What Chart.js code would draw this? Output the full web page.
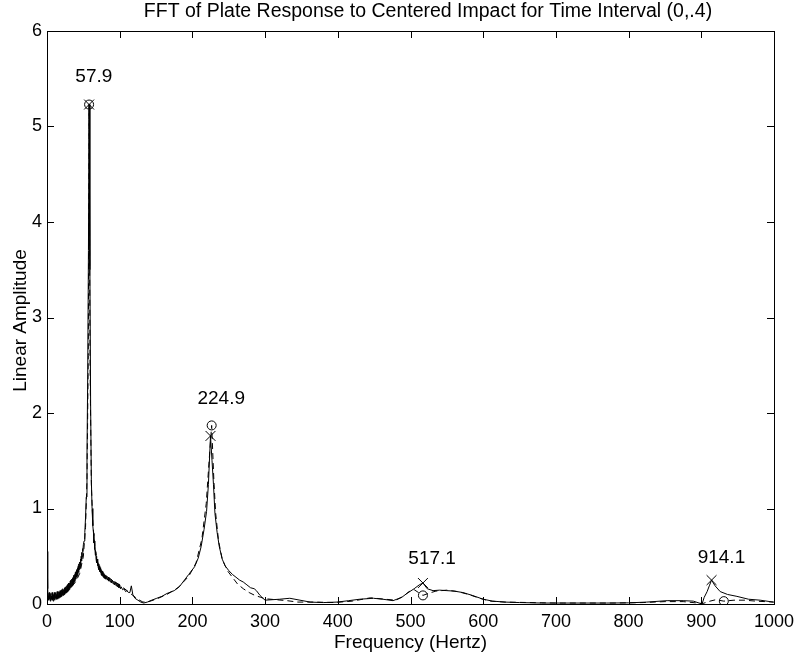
<!DOCTYPE html>
<html>
<head>
<meta charset="utf-8">
<script src="https://cdn.jsdelivr.net/npm/chart.js@4"></script>
<style>
  body { margin: 0; background: #fff; }
  #container-canva { width: 799px; height: 657px; }
</style>
</head>
<body>
<div id="container-canva">
  <canvas id="fft-plot" width="799" height="657"></canvas>
</div>
<script>
// espectro medido (linea continua)
const freqMeasured = [0, 1, 1.5,
    2, 2.5, 3, 3.5, 4, 4.5, 5, 5.5, 6, 6.5, 7, 7.5, 8, 8.5, 9, 9.5, 10, 10.5,
    11, 11.5, 12, 12.5, 13, 13.5, 14, 14.5, 15, 15.5, 16, 16.5, 17, 17.5, 18, 18.5, 19, 19.5, 20, 20.5,
    21, 21.5, 22, 22.5, 23, 23.5, 24, 24.5, 25, 25.5, 26, 26.5, 27, 27.5, 28, 28.5, 29, 29.5, 30, 30.5,
    31, 31.5, 32, 32.5, 33, 33.5, 34, 34.5, 35, 35.5, 36, 36.5, 37, 37.5, 38, 38.5, 39, 39.5, 40, 40.5,
    41, 41.5, 42, 42.5, 43, 43.5, 44, 44.5, 45, 45.5, 46, 46.5, 47, 47.5, 48, 48.5, 49, 49.5, 50,
    51, 52, 53, 54, 55, 56, 57, 57.9, 59, 60, 61, 62, 63, 64,
    64.5, 65, 65.5, 66, 66.5, 67, 67.5, 68, 68.5, 69, 69.5, 70, 70.5, 71, 71.5, 72, 72.5, 73, 73.5, 74,
    74.5, 75, 75.5, 76, 76.5, 77, 77.5, 78, 78.5, 79, 79.5, 80, 81, 82, 83, 84, 85, 86, 87, 88,
    89, 90, 91, 92, 93, 94, 95, 96, 97, 98, 99, 100, 101, 102, 104, 106, 108, 110, 112, 114,
    116, 118, 121, 125, 129, 133, 138, 144, 151, 158, 165, 175, 182, 187, 195, 203, 208, 212, 216, 219.5,
    222, 224.9, 227, 229, 231, 234, 237, 241, 245, 250, 255, 260, 265, 270, 275, 280, 285, 288, 293, 297,
    300, 310, 320, 334, 348, 362, 380, 399, 415, 430, 449, 462, 476, 488, 495, 505, 512, 517.1, 523, 531,
    540, 550, 560, 572, 585, 600, 613, 630, 650, 680, 710, 740, 770, 800, 825, 853, 875, 889, 897, 901,
    904, 908, 911, 914.1, 919, 926, 936, 949, 965, 981, 999];
const ampMeasured = [0.55, 0.16, 0.06,
    0.09, 0.04, 0.12, 0.05, 0.10, 0.03, 0.11, 0.04, 0.08, 0.05, 0.12, 0.04, 0.09, 0.03, 0.10, 0.05, 0.12, 0.04,
    0.09, 0.06, 0.12, 0.05, 0.10, 0.06, 0.13, 0.05, 0.11, 0.07, 0.13, 0.06, 0.12, 0.07, 0.14, 0.07, 0.13, 0.08, 0.15, 0.08,
    0.14, 0.09, 0.16, 0.09, 0.15, 0.10, 0.17, 0.10, 0.17, 0.11, 0.18, 0.12, 0.19, 0.12, 0.20, 0.13, 0.21, 0.14, 0.22, 0.15,
    0.22, 0.16, 0.24, 0.17, 0.25, 0.18, 0.26, 0.19, 0.27, 0.20, 0.28, 0.21, 0.30, 0.23, 0.31, 0.24, 0.33, 0.26, 0.34, 0.28,
    0.36, 0.29, 0.38, 0.31, 0.40, 0.33, 0.42, 0.36, 0.44, 0.38, 0.47, 0.41, 0.50, 0.45, 0.54, 0.49, 0.58, 0.55, 0.62,
    0.66, 0.75, 0.9, 1.12, 1.55, 2.4, 3.7, 5.23, 3.5, 2.1, 1.3, 1.0, 0.82, 0.74,
    0.64, 0.66, 0.57, 0.6, 0.51, 0.55, 0.47, 0.5, 0.43, 0.47, 0.4, 0.44, 0.38, 0.42, 0.36, 0.4, 0.34, 0.38, 0.33, 0.36,
    0.31, 0.35, 0.3, 0.34, 0.29, 0.33, 0.28, 0.32, 0.27, 0.31, 0.27, 0.3, 0.26, 0.29, 0.25, 0.28, 0.24, 0.27, 0.23, 0.26,
    0.22, 0.25, 0.21, 0.24, 0.2, 0.23, 0.19, 0.22, 0.18, 0.21, 0.17, 0.2, 0.16, 0.18, 0.15, 0.16, 0.13, 0.14, 0.12, 0.12,
    0.19, 0.1, 0.06, 0.04, 0.02, 0.01, 0.02, 0.04, 0.06, 0.08, 0.11, 0.14, 0.18, 0.23, 0.31, 0.39, 0.48, 0.6, 0.78, 0.97,
    1.25, 1.76, 1.5, 1.25, 0.95, 0.75, 0.6, 0.47, 0.4, 0.35, 0.31, 0.28, 0.25, 0.23, 0.2, 0.17, 0.16, 0.14, 0.09, 0.06,
    0.04, 0.045, 0.05, 0.06, 0.04, 0.02, 0.015, 0.02, 0.035, 0.05, 0.06, 0.05, 0.035, 0.07, 0.11, 0.16, 0.2, 0.22, 0.16, 0.14,
    0.145, 0.14, 0.135, 0.12, 0.09, 0.05, 0.03, 0.02, 0.015, 0.01, 0.01, 0.01, 0.01, 0.012, 0.02, 0.035, 0.035, 0.03, 0.01, 0.0,
    0.07, 0.13, 0.19, 0.25, 0.19, 0.13, 0.1, 0.08, 0.05, 0.04, 0.02];

// modelo ajustado (linea discontinua)
const freqModel = [0, 5, 10, 15, 20, 25, 30, 35, 40, 45, 50, 53, 55, 56.8, 57.9, 59.2, 61, 63, 66, 70,
    75, 80, 90, 100, 110, 118, 125, 132, 140, 150, 165, 180, 195, 205, 213, 219, 223, 226.5, 229.5, 232,
    236, 241, 248, 255, 262, 270, 278, 286, 294, 300, 315, 330, 345, 370, 395, 420, 445, 465, 480, 490,
    498, 505, 511, 517.1, 524, 535, 550, 565, 580, 595, 610, 630, 700, 780, 820, 850, 875, 895, 902, 912,
    920, 931, 945, 960, 975, 1000];
const ampModel = [0.12, 0.08, 0.07, 0.08, 0.1, 0.12, 0.15, 0.19, 0.24, 0.32, 0.5, 0.8, 1.3, 2.6, 5.23, 2.5, 1.25, 0.85, 0.58, 0.43,
    0.35, 0.3, 0.25, 0.2, 0.14, 0.09, 0.05, 0.02, 0.025, 0.05, 0.1, 0.17, 0.29, 0.43, 0.68, 1.05, 1.5, 1.87, 1.3, 0.95,
    0.66, 0.47, 0.35, 0.28, 0.21, 0.16, 0.12, 0.09, 0.07, 0.055, 0.045, 0.035, 0.02, 0.02, 0.015, 0.03, 0.065, 0.05, 0.04, 0.08,
    0.13, 0.15, 0.12, 0.09, 0.11, 0.135, 0.145, 0.13, 0.1, 0.06, 0.03, 0.02, 0.01, 0.01, 0.015, 0.025, 0.025, 0.01, 0.005, 0.03,
    0.045, 0.03, 0.04, 0.04, 0.03, 0.02];

// picos: "x" sobre la medida, "o" sobre el modelo
const peakFreq = [57.9, 224.9, 517.1, 914.1];
const peakAmp = [5.23, 1.76, 0.22, 0.25];
const modelPeakFreq = [57.9, 226.5, 517.1, 931];
const modelPeakAmp = [5.23, 1.87, 0.09, 0.03];

// etiquetas de los picos
const peakLabels = ['57.9', '224.9', '517.1', '914.1'];
const labelFreq = [39, 207, 497, 895];
const labelAmp = [5.47, 2.09, 0.42, 0.43];

// ticks de los ejes
const xTicks = [0, 100, 200, 300, 400, 500, 600, 700, 800, 900, 1000];
const yTicks = [0, 1, 2, 3, 4, 5, 6];

const titleText = 'FFT of Plate Response to Centered Impact for Time Interval (0,.4)';
const xTitle = 'Frequency (Hertz)';
const yTitle = 'Linear Amplitude';

const fontFamily = '"Liberation Sans", Arial, Helvetica, sans-serif';

function toPoints(xs, ys) {
    return xs.map((x, i) => ({ x: x, y: ys[i] }));
}

// dibuja el marco, los ticks hacia adentro, las etiquetas y los titulos
const matlabFrame = {
    id: 'matlabFrame',
    afterDatasetsDraw(chart) {
        let ctx = chart.ctx;
        let area = chart.chartArea;
        let xs = chart.scales.x;
        let ys = chart.scales.y;
        let tl = 7;

        ctx.save();
        ctx.strokeStyle = '#000';
        ctx.lineWidth = 1;
        ctx.strokeRect(Math.round(area.left) + 0.5, Math.round(area.top) + 0.5,
            Math.round(area.right - area.left), Math.round(area.bottom - area.top));

        ctx.beginPath();
        xTicks.forEach(v => {
            let px = Math.round(xs.getPixelForValue(v)) + 0.5;
            ctx.moveTo(px, area.bottom);
            ctx.lineTo(px, area.bottom - tl);
            ctx.moveTo(px, area.top);
            ctx.lineTo(px, area.top + tl);
        });
        yTicks.forEach(v => {
            let py = Math.round(ys.getPixelForValue(v)) + 0.5;
            ctx.moveTo(area.left, py);
            ctx.lineTo(area.left + tl, py);
            ctx.moveTo(area.right, py);
            ctx.lineTo(area.right - tl, py);
        });
        ctx.stroke();

        // etiquetas de frecuencia de cada pico
        ctx.fillStyle = '#000';
        ctx.font = '19px ' + fontFamily;
        ctx.textAlign = 'left';
        ctx.textBaseline = 'alphabetic';
        peakLabels.forEach((t, i) => {
            ctx.fillText(t, xs.getPixelForValue(labelFreq[i]), ys.getPixelForValue(labelAmp[i]));
        });

        // titulo y nombres de ejes
        ctx.textAlign = 'center';
        ctx.fillText(xTitle, (area.left + area.right) / 2, 648);
        ctx.font = '19.5px ' + fontFamily;
        ctx.fillText(titleText, 428, 17);

        ctx.font = '19px ' + fontFamily;
        ctx.translate(26, (area.top + area.bottom) / 2 + 3);
        ctx.rotate(-Math.PI / 2);
        ctx.fillText(yTitle, 0, 0);
        ctx.restore();
    }
};

document.addEventListener("DOMContentLoaded", function () {
    let ctx = document.getElementById("fft-plot").getContext("2d");
    let fftChart = new Chart(ctx, {
        type: 'line',
        data: {
            datasets: [{
                label: 'Measured',
                data: toPoints(freqMeasured, ampMeasured),
                borderColor: '#000',
                borderWidth: 1,
                pointRadius: 0,
                tension: 0,
                fill: false
            },
            {
                label: 'Model',
                data: toPoints(freqModel, ampModel),
                borderColor: '#000',
                borderWidth: 1,
                borderDash: [6, 4],
                pointRadius: 0,
                tension: 0,
                fill: false
            },
            {
                label: 'Measured peaks',
                data: toPoints(peakFreq, peakAmp),
                showLine: false,
                pointStyle: 'crossRot',
                pointRadius: 7,
                pointBorderColor: '#000',
                pointBorderWidth: 1
            },
            {
                label: 'Model peaks',
                data: toPoints(modelPeakFreq, modelPeakAmp),
                showLine: false,
                pointStyle: 'circle',
                pointRadius: 4.5,
                pointBackgroundColor: 'rgba(0,0,0,0)',
                pointBorderColor: '#000',
                pointBorderWidth: 1
            }]
        },
        options: {
            responsive: false,
            animation: false,
            devicePixelRatio: 1,
            layout: {
                padding: { top: 31, right: 25, left: 0, bottom: 0 }
            },
            plugins: {
                legend: { display: false },
                tooltip: { enabled: false },
                title: { display: false }
            },
            scales: {
                x: {
                    type: 'linear',
                    min: 0,
                    max: 1000,
                    afterFit: s => { s.height = 53; s.paddingLeft = 0; s.paddingRight = 0; },
                    afterBuildTicks: s => { s.ticks = xTicks.map(v => ({ value: v })); },
                    grid: { display: false, drawTicks: false },
                    border: { display: false },
                    ticks: {
                        color: '#000',
                        padding: 7,
                        maxRotation: 0,
                        callback: v => String(v),
                        font: { family: fontFamily, size: 18 }
                    }
                },
                y: {
                    type: 'linear',
                    min: 0,
                    max: 6,
                    afterFit: s => { s.width = 47; s.paddingTop = 0; s.paddingBottom = 0; },
                    afterBuildTicks: s => { s.ticks = yTicks.map(v => ({ value: v })); },
                    grid: { display: false, drawTicks: false },
                    border: { display: false },
                    ticks: {
                        color: '#000',
                        padding: 5,
                        callback: v => String(v),
                        font: { family: fontFamily, size: 18 }
                    }
                }
            }
        },
        plugins: [matlabFrame]
    });
});
</script>
</body>
</html>
